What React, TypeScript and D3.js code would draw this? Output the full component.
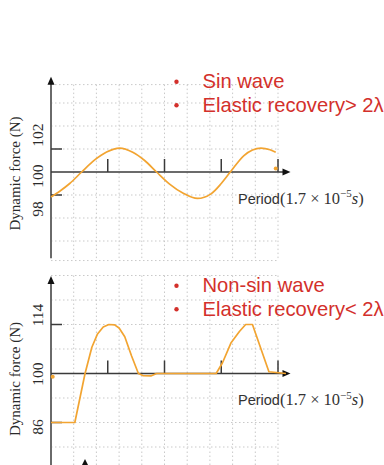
import React from "react";
import * as d3 from "d3";

// ---- data ----
const xTicks = [1, 2, 3, 4];
const xGrid = [0.4, 0.8, 1.2, 1.6, 2.0, 2.4, 2.8, 3.2, 3.6, 4.0];

// top panel: sine wave
const sinX = [0, 0.16, 0.33, 0.54, 0.77, 0.98, 1.21, 1.44, 1.65, 1.86, 2.09, 2.33, 2.58, 2.82, 3.0, 3.16, 3.4, 3.7, 3.86, 3.96];
const sinY = [97.82, 98.35, 99.0, 100, 101.05, 101.74, 102.08, 101.72, 101.0, 100, 98.95, 98.15, 97.7, 98.1, 99.0, 100, 101.43, 102.08, 101.93, 101.72];
const sinTickValues = [98, 102];
const sinTickLabels = ["98", "100", "102"];
const sinGrid = [92.3, 94, 96, 98, 102, 104, 106, 107.6];
const sinMarker = [3.96, 100.3];
const sinLegend = ["Sin wave", "Elastic recovery> 2\u03bb"];

// bottom panel: non-sine wave
const nsX = [0, 0.42, 0.6, 0.72, 0.82, 0.92, 1.02, 1.12, 1.2, 1.3, 1.42, 1.54, 1.62, 1.76, 1.86, 2.91, 3.02, 3.17, 3.32, 3.43, 3.55, 3.84, 4.14];
const nsY = [86, 86, 100, 107.5, 111.3, 113.3, 114, 113.9, 113, 110.5, 105, 100, 99.4, 99.3, 100, 100, 103, 108.7, 112, 114, 114, 100.5, 100];
const nsTickValues = [86, 114];
const nsTickLabels = ["86", "100", "114"];
const nsGrid = [79, 86, 93, 107, 114, 121, 128];
const nsMarker = [0.03, 99.1];
const nsLegend = ["Non-sin wave", "Elastic recovery< 2\u03bb"];

const ORANGE = "#f2a431";
const RED = "#d3302b";
const AXIS = "#3a3a3a";
const GRID = "#c9c9c9";
const SERIF = "'Liberation Serif', 'Times New Roman', serif";
const SANS = "'Liberation Sans', Arial, sans-serif";

const xScale = d3.scaleLinear().domain([0, 4]).range([51, 278]);

type PanelProps = {
  yScale: d3.ScaleLinear<number, number>;
  xs: number[];
  ys: number[];
  curve: d3.CurveFactory;
  tickValues: number[];
  labelTexts: string[];
  labelY: number[];
  grid: number[];
  gridTop: number;
  gridBottom: number;
  axisTop: number;
  axisBottom: number;
  marker: number[];
  legend: string[];
  legendTop: number;
  titleY: number;
};

function Panel(p: PanelProps) {
  const y = p.yScale;
  const y0 = y(100);
  const pts = p.xs.map((v, i) => [v, p.ys[i]] as [number, number]);
  const line = d3
    .line<[number, number]>()
    .x((d) => xScale(d[0]))
    .y((d) => y(d[1]))
    .curve(p.curve);
  const ax = xScale(0);
  const xEnd = xScale(4.22);
  const gTop = y(p.gridTop);
  const gBot = y(p.gridBottom);
  const aTop = y(p.axisTop);
  return (
    <g>
      {/* grid */}
      {xGrid.map((g) => (
        <line key={"vx" + g} x1={xScale(g)} x2={xScale(g)} y1={gTop} y2={gBot}
          stroke={GRID} strokeWidth={1} strokeDasharray="1.5,2.5" />
      ))}
      {p.grid.map((g) => (
        <line key={"hy" + g} x1={ax} x2={xScale(4)} y1={y(g)} y2={y(g)}
          stroke={GRID} strokeWidth={1} strokeDasharray="1.5,2.5" />
      ))}
      {/* y axis */}
      <line x1={ax} x2={ax} y1={y(p.axisBottom)} y2={aTop + 4} stroke="#6a6a6a" strokeWidth={2} />
      <path d={`M${ax - 3.5},${aTop + 6} L${ax},${aTop - 2} L${ax + 3.5},${aTop + 6} Z`} fill="#111" />
      {/* y ticks */}
      {p.tickValues.map((t) => (
        <line key={"yt" + t} x1={ax} x2={ax + 11} y1={y(t)} y2={y(t)} stroke={AXIS} strokeWidth={1.5} />
      ))}
      {/* x axis */}
      <line x1={ax} x2={xEnd - 6} y1={y0} y2={y0} stroke={AXIS} strokeWidth={1.6} />
      <path d={`M${xEnd - 8},${y0 - 3.5} L${xEnd},${y0} L${xEnd - 8},${y0 + 3.5} Z`} fill="#111" />
      {xTicks.map((t) => (
        <line key={"xt" + t} x1={xScale(t)} x2={xScale(t)} y1={y0} y2={y0 - 13} stroke={AXIS} strokeWidth={1.5} />
      ))}
      {/* curve */}
      <path d={line(pts) || ""} fill="none" stroke={ORANGE} strokeWidth={1.7} strokeLinejoin="round" />
      <circle cx={xScale(p.marker[0])} cy={y(p.marker[1])} r={2} fill={ORANGE} />
      {/* tick labels */}
      {p.labelTexts.map((t, i) => (
        <text key={"tl" + t} transform={`translate(43,${p.labelY[i]}) rotate(-90)`} textAnchor="middle"
          fontFamily={SERIF} fontSize={15.5} fill="#2a2a2a">{t}</text>
      ))}
      {/* y title */}
      <text transform={`translate(19.5,${p.titleY}) rotate(-90)`} textAnchor="middle"
        fontFamily={SERIF} fontSize={15} fill="#2a2a2a">Dynamic force (N)</text>
      {/* x title */}
      <text x={238} y={y0 + 31.5} fontFamily={SANS} fontSize={14.5} fill="#333">
        Period
        <tspan fontFamily={SERIF} fontSize={16.5}>(1.7 × 10</tspan>
        <tspan fontFamily={SERIF} fontSize={11} dy={-6.5}>−5</tspan>
        <tspan fontFamily={SERIF} fontSize={16.5} fontStyle="italic" dy={6.5}>s</tspan>
        <tspan fontFamily={SERIF} fontSize={16.5}>)</tspan>
      </text>
      {/* legend */}
      {p.legend.map((t, i) => (
        <g key={"lg" + i}>
          <circle cx={176.5} cy={p.legendTop + i * 23.5 - 6.5} r={2.2} fill={RED} />
          <text x={202.5} y={p.legendTop + i * 23.5} fontFamily={SANS} fontSize={20.2} fill={RED}>{t}</text>
        </g>
      ))}
    </g>
  );
}

export default function App() {
  const yTop = d3.scaleLinear().domain([100, 102]).range([172, 149]);
  const yBot = d3.scaleLinear().domain([100, 114]).range([373.5, 324.5]);
  return (
    <svg width={384} height={465} style={{ position: "absolute", left: 0, top: 0, background: "#fff" }}>
      <rect width={384} height={465} fill="#fff" />
      <Panel
        yScale={yTop}
        xs={sinX}
        ys={sinY}
        curve={d3.curveMonotoneX}
        tickValues={sinTickValues}
        labelTexts={sinTickLabels}
        labelY={[209, 176, 135]}
        grid={sinGrid}
        gridTop={107.6}
        gridBottom={92.3}
        axisTop={108.1}
        axisBottom={92.5}
        marker={sinMarker}
        legend={sinLegend}
        legendTop={88.3}
        titleY={173.5}
      />
      <Panel
        yScale={yBot}
        xs={nsX}
        ys={nsY}
        curve={d3.curveLinear}
        tickValues={nsTickValues}
        labelTexts={nsTickLabels}
        labelY={[427, 374, 315]}
        grid={nsGrid}
        gridTop={128}
        gridBottom={72}
        axisTop={127.3}
        axisBottom={72}
        marker={nsMarker}
        legend={nsLegend}
        legendTop={292.3}
        titleY={379}
      />
      {/* tip of the next panel's axis at the bottom edge */}
      <path d={`M${81.5},${466} L${85},${459} L${88.5},${466} Z`} fill="#111" />
    </svg>
  );
}
